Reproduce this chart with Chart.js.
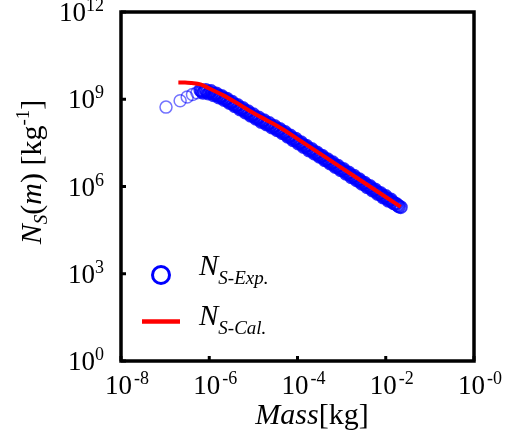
<!DOCTYPE html>
<html>
<head>
<meta charset="utf-8">
<script src="https://cdn.jsdelivr.net/npm/chart.js@4/dist/chart.umd.min.js"></script>
<style>
html,body{margin:0;padding:0;background:#fff;}
canvas{display:block;}
</style>
</head>
<body>
<canvas id="c" width="513" height="436"></canvas>
<script>
// Experimental data (mass in kg, N_S in kg^-1)
const expMass = [1.047e-7,2.188e-7,3.162e-7,4.169e-7,5.248e-7,
6.310e-7,7.244e-7,8.318e-7,9.550e-7,1.096e-6,1.259e-6,1.445e-6,1.660e-6,1.905e-6,2.188e-6,
2.512e-6,2.884e-6,3.311e-6,3.802e-6,4.365e-6,5.012e-6,5.754e-6,6.607e-6,7.586e-6,8.710e-6,
1.000e-5,1.148e-5,1.318e-5,1.514e-5,1.738e-5,1.995e-5,2.291e-5,2.630e-5,3.020e-5,3.467e-5,
3.981e-5,4.571e-5,5.248e-5,6.026e-5,6.918e-5,7.943e-5,9.120e-5,1.047e-4,1.202e-4,1.380e-4,
1.585e-4,1.820e-4,2.089e-4,2.399e-4,2.754e-4,3.162e-4,3.631e-4,4.169e-4,4.786e-4,5.495e-4,
6.310e-4,7.244e-4,8.318e-4,9.550e-4,1.096e-3,1.259e-3,1.445e-3,1.660e-3,1.905e-3,2.188e-3,
2.512e-3,2.884e-3,3.311e-3,3.802e-3,4.365e-3,5.012e-3,5.754e-3,6.607e-3,7.586e-3,8.710e-3,
1.000e-2,1.148e-2,1.318e-2,1.514e-2,1.738e-2,1.995e-2,2.188e-2,
6.761e-7,7.762e-7,8.913e-7,1.023e-6,1.175e-6,1.349e-6,1.549e-6,1.778e-6,2.042e-6,2.344e-6,
2.692e-6,3.090e-6,3.548e-6,4.074e-6,4.677e-6,5.370e-6,6.166e-6,7.079e-6,8.128e-6,9.333e-6,
1.072e-5,1.230e-5,1.413e-5,1.622e-5,1.862e-5,2.138e-5,2.455e-5,2.818e-5,3.236e-5,3.715e-5,
4.266e-5,4.898e-5,5.623e-5,6.457e-5,7.413e-5,8.511e-5,9.772e-5,1.122e-4,1.288e-4,1.479e-4,
1.698e-4,1.950e-4,2.239e-4,2.570e-4,2.951e-4,3.388e-4,3.890e-4,4.467e-4,5.129e-4,5.888e-4,
6.761e-4,7.762e-4,8.913e-4,1.023e-3,1.175e-3,1.349e-3,1.549e-3,1.778e-3,2.042e-3,2.344e-3,
2.692e-3,3.090e-3,3.548e-3,4.074e-3,4.677e-3,5.370e-3,6.166e-3,7.079e-3,8.128e-3,9.333e-3,
1.072e-2,1.230e-2,1.413e-2,1.622e-2,1.862e-2];
const expN = [5.370e8,8.913e8,1.202e9,1.445e9,1.660e9,
2.042e9,1.660e9,2.089e9,1.585e9,1.905e9,1.380e9,1.585e9,1.148e9,1.288e9,9.333e8,
1.047e9,7.413e8,8.128e8,5.754e8,6.310e8,4.467e8,5.012e8,3.467e8,3.890e8,2.692e8,
3.020e8,2.138e8,2.344e8,1.660e8,1.905e8,1.349e8,1.514e8,1.072e8,1.202e8,8.511e7,
9.550e7,6.761e7,7.413e7,5.129e7,5.623e7,3.890e7,4.365e7,3.020e7,3.311e7,2.291e7,
2.512e7,1.738e7,1.950e7,1.349e7,1.479e7,1.047e7,1.148e7,7.943e6,8.710e6,6.166e6,
6.761e6,4.677e6,5.129e6,3.631e6,3.981e6,2.754e6,3.020e6,2.089e6,2.344e6,1.622e6,
1.778e6,1.230e6,1.349e6,9.333e5,1.047e6,7.244e5,7.943e5,5.495e5,6.026e5,4.169e5,
4.677e5,3.236e5,3.548e5,2.630e5,2.512e5,2.042e5,1.950e5,
1.862e9,1.862e9,1.820e9,1.738e9,1.622e9,1.479e9,1.349e9,1.230e9,1.096e9,1.000e9,
8.710e8,7.762e8,6.761e8,6.026e8,5.248e8,4.677e8,4.169e8,3.631e8,3.236e8,2.818e8,
2.512e8,2.239e8,1.950e8,1.778e8,1.585e8,1.413e8,1.259e8,1.122e8,1.000e8,8.913e7,
7.943e7,7.079e7,6.166e7,5.370e7,4.677e7,4.074e7,3.631e7,3.162e7,2.754e7,2.399e7,
2.089e7,1.820e7,1.622e7,1.413e7,1.230e7,1.096e7,9.550e6,8.318e6,7.244e6,6.457e6,
5.623e6,4.898e6,4.266e6,3.802e6,3.311e6,2.884e6,2.512e6,2.188e6,1.950e6,1.698e6,
1.479e6,1.288e6,1.122e6,1.000e6,8.710e5,7.586e5,6.607e5,5.754e5,5.012e5,4.365e5,
3.890e5,3.388e5,2.951e5,2.570e5,2.239e5];

// Calculated curve
const calMass = [1.995e-7,2.818e-7,3.981e-7,6.310e-7,1.0e-6,1.995e-6,5.012e-6,1.0e-5,1.995e-5,4.074e-5,1.0e-4,1.0e-3,1.0e-2,2.188e-2];
const calN    = [3.802e9,3.802e9,3.631e9,3.236e9,2.344e9,1.413e9,6.310e8,3.388e8,1.905e8,1.047e8,4.365e7,4.365e6,4.365e5,1.995e5];

// Tick labels
const xTickVals = [1e-8,1e-6,1e-4,1e-2,1];
const xTickExps = ["-8","-6","-4","-2","-0"];
const yTickVals = [1,1e3,1e6,1e9,1e12];
const yTickExps = ["0","3","6","9","12"];

const SERIF = '"Liberation Serif","Times New Roman",serif';

const expData = expMass.map((m,i)=>({x:m,y:expN[i]}));
const calData = calMass.map((m,i)=>({x:m,y:calN[i]}));

function drawPow(ctx, x, y, exp, align, gap){
  ctx.font = '27px ' + SERIF;
  const wb = ctx.measureText('10').width;
  ctx.font = '18px ' + SERIF;
  const we = ctx.measureText(exp).width;
  let left = x;
  if (align === 'right') left = x - wb - gap - we;
  ctx.textAlign = 'left';
  ctx.textBaseline = 'alphabetic';
  ctx.fillStyle = '#000';
  ctx.font = '27px ' + SERIF;
  ctx.fillText('10', left, y);
  ctx.font = '18px ' + SERIF;
  ctx.fillText(exp, left + wb + gap, y - 10);
}

const framePlugin = {
  id: 'frame',
  afterDraw(chart){
    const ctx = chart.ctx;
    const a = chart.chartArea;
    const xs = chart.scales.x, ys = chart.scales.y;
    ctx.save();
    // frame
    ctx.strokeStyle = '#000';
    ctx.lineWidth = 3.5;
    ctx.strokeRect(a.left, a.top, a.right - a.left, a.bottom - a.top);
    // ticks (inward)
    ctx.lineWidth = 3;
    xTickVals.forEach(v=>{
      const px = xs.getPixelForValue(v);
      ctx.beginPath(); ctx.moveTo(px, a.bottom); ctx.lineTo(px, a.bottom - 5); ctx.stroke();
    });
    yTickVals.forEach(v=>{
      const py = ys.getPixelForValue(v);
      ctx.beginPath(); ctx.moveTo(a.left, py); ctx.lineTo(a.left + 5, py); ctx.stroke();
    });
    // tick labels
    xTickVals.forEach((v,i)=>{
      const px = xs.getPixelForValue(v);
      drawPow(ctx, px - 16, 394, xTickExps[i], 'left', 2);
    });
    yTickVals.forEach((v,i)=>{
      const py = ys.getPixelForValue(v);
      drawPow(ctx, 104, py + 9, yTickExps[i], 'right', 0);
    });
    // x title
    ctx.fillStyle = '#000';
    ctx.textBaseline = 'alphabetic';
    ctx.font = 'italic 30px ' + SERIF;
    const wM = ctx.measureText('Mass').width;
    ctx.font = '30px ' + SERIF;
    const wK = ctx.measureText('[kg]').width;
    let sx = 312 - (wM + wK)/2;
    ctx.textAlign = 'left';
    ctx.font = 'italic 30px ' + SERIF;
    ctx.fillText('Mass', sx, 424);
    ctx.font = '30px ' + SERIF;
    ctx.fillText('[kg]', sx + wM, 424);
    // y title (rotated)
    ctx.save();
    ctx.translate(41, 172);
    ctx.rotate(-Math.PI/2);
    const parts = [
      {t:'N', f:'italic 30px ', dy:0},
      {t:'S', f:'italic 19px ', dy:6},
      {t:'(', f:'30px ', dy:0},
      {t:'m', f:'italic 30px ', dy:0},
      {t:') [kg', f:'30px ', dy:0},
      {t:'-1', f:'19px ', dy:-12},
      {t:']', f:'30px ', dy:0}
    ];
    let tw = 0;
    parts.forEach(p=>{ctx.font = p.f + SERIF; p.w = ctx.measureText(p.t).width; tw += p.w;});
    let cx = -tw/2;
    parts.forEach(p=>{ctx.font = p.f + SERIF; ctx.fillText(p.t, cx, p.dy); cx += p.w;});
    ctx.restore();
    // legend
    ctx.beginPath();
    ctx.arc(161, 275, 8.5, 0, Math.PI*2);
    ctx.strokeStyle = '#0000ff';
    ctx.lineWidth = 3;
    ctx.stroke();
    ctx.beginPath();
    ctx.moveTo(142, 321.5); ctx.lineTo(180, 321.5);
    ctx.strokeStyle = '#ff0000';
    ctx.lineWidth = 4.5;
    ctx.stroke();
    ctx.fillStyle = '#000';
    ctx.font = 'italic 29px ' + SERIF;
    ctx.fillText('N', 199, 275);
    let wN = ctx.measureText('N').width;
    ctx.font = 'italic 19px ' + SERIF;
    ctx.fillText('S-Exp.', 199 + wN, 284);
    ctx.font = 'italic 29px ' + SERIF;
    ctx.fillText('N', 199, 325);
    ctx.font = 'italic 19px ' + SERIF;
    ctx.fillText('S-Cal.', 199 + wN, 334);
    ctx.restore();
  }
};

new Chart(document.getElementById('c'), {
  type: 'scatter',
  data: {
    datasets: [
      {
        label: 'N_S-Cal.',
        data: calData,
        showLine: true,
        borderColor: '#ff0000',
        borderWidth: 4,
        pointRadius: 0,
        tension: 0.4,
        cubicInterpolationMode: 'monotone',
        order: 0
      },
      {
        label: 'N_S-Exp.',
        data: expData,
        showLine: false,
        pointStyle: 'circle',
        pointRadius: 6,
        pointBorderWidth: ctx => ctx.dataIndex < 5 ? 1.5 : 2,
        pointBorderColor: ctx => ctx.dataIndex < 5 ? 'rgba(0,0,255,0.55)' : 'rgba(0,0,255,0.8)',
        borderColor: 'rgba(0,0,255,0.8)',
        backgroundColor: 'rgba(0,0,0,0)',
        pointBackgroundColor: 'rgba(0,0,0,0)',
        order: 1
      }
    ]
  },
  options: {
    responsive: false,
    animation: false,
    devicePixelRatio: 1,
    layout: { padding: { left: 121, right: 39, top: 12, bottom: 75 } },
    plugins: { legend: { display: false }, tooltip: { enabled: false } },
    scales: {
      x: { type: 'logarithmic', min: 1e-8, max: 1, display: false },
      y: { type: 'logarithmic', min: 1, max: 1e12, display: false }
    }
  },
  plugins: [framePlugin]
});
</script>
</body>
</html>
